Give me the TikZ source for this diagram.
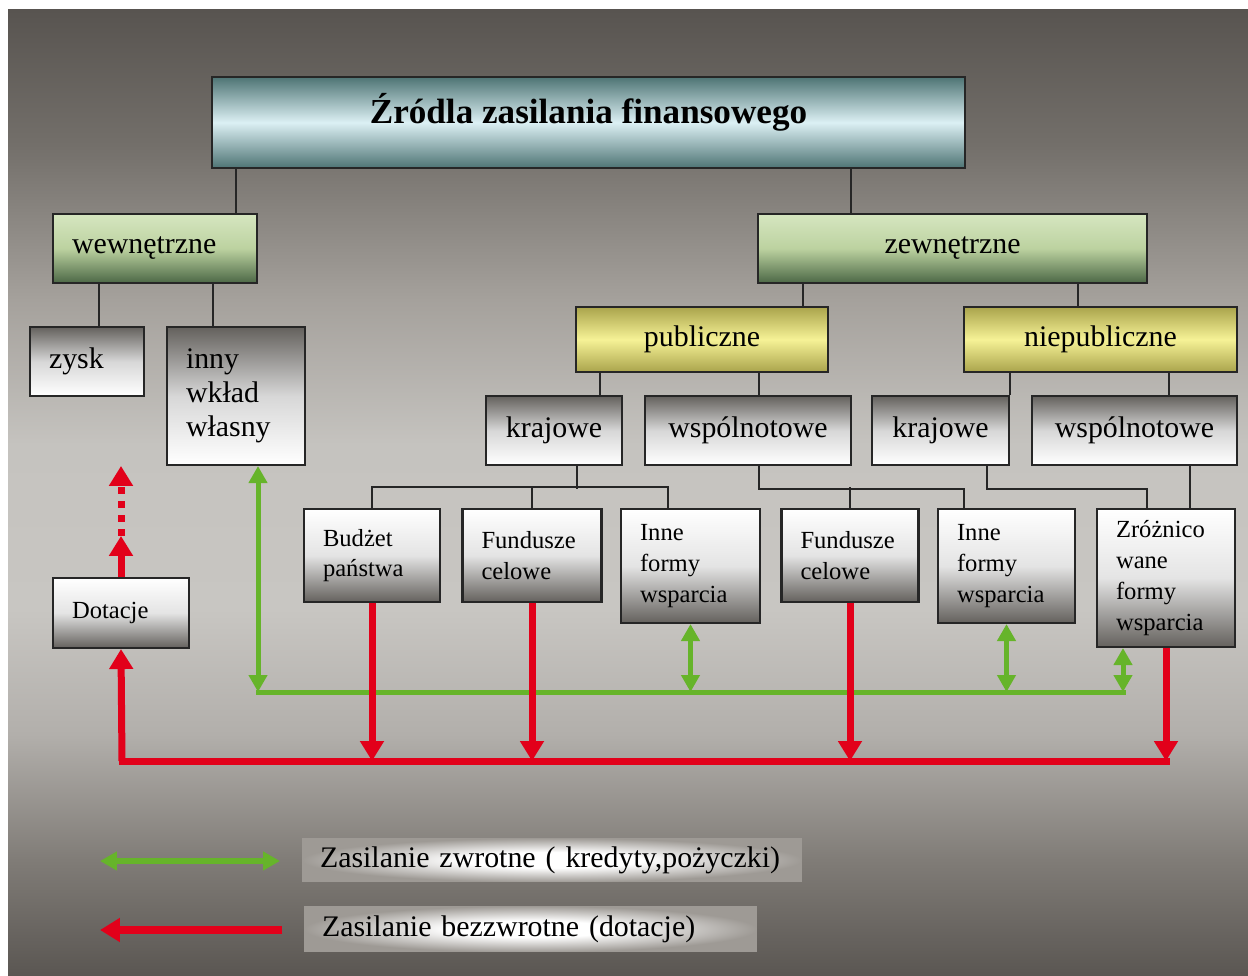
\documentclass[tikz,border=0pt]{standalone}
\usepackage{fontspec}
\setmainfont{Liberation Serif}
\usepackage{xcolor}
\usepackage{tikz}
\usetikzlibrary{arrows.meta}

\definecolor{tloA}{RGB}{90,86,82}
\definecolor{tloB}{RGB}{128,124,119}
\definecolor{tloC}{RGB}{178,175,171}
\definecolor{tloD}{RGB}{200,198,194}
\definecolor{tloE}{RGB}{197,195,191}
\definecolor{tloF}{RGB}{165,161,156}
\definecolor{tloG}{RGB}{115,111,106}
\definecolor{tloH}{RGB}{88,84,80}
\definecolor{legA}{RGB}{158,154,149}
\definecolor{obrys}{RGB}{38,38,38}
\definecolor{czerwony}{RGB}{226,0,26}
\definecolor{zielony}{RGB}{102,180,42}
\definecolor{szaryC}{RGB}{100,97,93}
\definecolor{szaryS}{RGB}{215,215,215}
\definecolor{szaryJ}{RGB}{228,228,228}
\definecolor{turkusC}{RGB}{78,116,116}
\definecolor{turkusJ}{RGB}{220,240,244}
\definecolor{zielJ}{RGB}{214,230,192}
\definecolor{zielS}{RGB}{188,210,160}
\definecolor{zielC}{RGB}{76,104,70}
\definecolor{zoltyC}{RGB}{170,164,76}
\definecolor{zoltyJ}{RGB}{246,242,150}

\pgfdeclareverticalshading{tlo}{100bp}{color(0bp)=(tloA); color(25bp)=(tloA); color(31bp)=(tloB); color(37.5bp)=(tloC); color(44bp)=(tloD); color(52.5bp)=(tloE); color(60bp)=(tloF); color(68bp)=(tloG); color(75bp)=(tloH); color(100bp)=(tloH)}
\pgfdeclareradialshading{poswiata}{\pgfpoint{0bp}{0bp}}{color(0bp)=(white); color(9bp)=(white); color(25bp)=(legA); color(50bp)=(legA)}

\tikzset{
	grotR/.tip={Triangle[length=0.4cm,width=0.46cm]},
	grotZ/.tip={Triangle[length=0.34cm,width=0.36cm]}
}

\begin{document}
\begin{tikzpicture}[x=0.02cm,y=-0.02cm,
	kostka/.style={draw=obrys,line width=1.2pt,inner xsep=0.38cm,inner ysep=0pt,font=\fontsize{17}{19.5}\selectfont},
	tytul/.style={kostka,top color=turkusC,bottom color=turkusC,middle color=turkusJ,font=\bfseries\fontsize{20}{24}\selectfont},
	zielona/.style={kostka,top color=zielJ,bottom color=zielC,middle color=zielS},
	zolta/.style={kostka,top color=zoltyC,bottom color=zoltyC,middle color=zoltyJ},
	gora/.style={kostka,top color=szaryC,bottom color=white,middle color=szaryS},
	dol/.style={kostka,top color=white,bottom color=szaryC,middle color=szaryJ,align=left,font=\fontsize{14}{17.5}\selectfont},
	linia/.style={draw=obrys,line width=1.1pt},
	zwrot/.style={draw=zielony,line width=0.1cm},
	bezzwrot/.style={draw=czerwony,line width=0.14cm},
	legenda/.style={shading=poswiata,inner xsep=0.36cm,inner ysep=0pt,align=left,font=\fontsize{17}{19.5}\selectfont}
	]

	\useasboundingbox (0,0) rectangle (1248,976);
	\fill[white] (0,0) rectangle (1248,976);
	\shade[shading=tlo] (8,10) rectangle (1248,976);

	% boxes
	\node[tytul,minimum width=15.06cm,minimum height=1.82cm,text height=0.63cm,text depth=0.6cm] (zrodla) at (588.5,122.5) {Źródla zasilania finansowego};

	\node[zielona,minimum width=4.08cm,minimum height=1.38cm,text width=3.32cm,align=left] (wewn) at (155,248.5) {wewnętrzne};
	\node[zielona,minimum width=7.78cm,minimum height=1.38cm] (zewn) at (952.5,248.5) {zewnętrzne};

	\node[gora,minimum width=2.28cm,minimum height=1.38cm,text width=1.52cm,align=left] (zysk) at (87,361.5) {zysk};
	\node[gora,minimum width=2.76cm,minimum height=2.76cm,text width=2cm,align=left,font=\fontsize{17}{19.3}\selectfont] (inny) at (236,396) {inny\\wkład\\własny};

	\node[zolta,minimum width=5.04cm,minimum height=1.3cm] (publ) at (702,339.5) {publiczne};
	\node[zolta,minimum width=5.46cm,minimum height=1.3cm] (niepubl) at (1100.5,339.5) {niepubliczne};

	\node[gora,minimum width=2.72cm,minimum height=1.38cm] (kraj1) at (554,430.5) {krajowe};
	\node[gora,minimum width=4.12cm,minimum height=1.38cm] (wsp1) at (748,430.5) {wspólnotowe};
	\node[gora,minimum width=2.74cm,minimum height=1.38cm] (kraj2) at (940.5,430.5) {krajowe};
	\node[gora,minimum width=4.1cm,minimum height=1.38cm] (wsp2) at (1134.5,430.5) {wspólnotowe};

	\node[dol,minimum width=2.72cm,minimum height=1.86cm,text width=1.96cm] (budzet) at (372,555.5) {Budżet\\państwa};
	\node[dol,minimum width=2.78cm,minimum height=1.86cm,text width=2.02cm] (fund1) at (532,555.5) {Fundusze\\celowe};
	\node[dol,minimum width=2.78cm,minimum height=2.28cm,text width=2.02cm] (inne1) at (690.5,566) {Inne\\formy\\wsparcia};
	\node[dol,minimum width=2.74cm,minimum height=1.86cm,text width=1.98cm] (fund2) at (850,555.5) {Fundusze\\celowe};
	\node[dol,minimum width=2.74cm,minimum height=2.28cm,text width=1.98cm] (inne2) at (1006.5,566) {Inne\\formy\\wsparcia};
	\node[dol,minimum width=2.76cm,minimum height=2.76cm,text width=2cm] (zroz) at (1166,578) {Zróżnico\\wane\\formy\\wsparcia};
	\node[dol,minimum width=2.72cm,minimum height=1.4cm,text width=1.96cm] (dot) at (121,613) {Dotacje};

	% tree
	\draw[linia] (zrodla.south -| 236,0) -- (wewn.north -| 236,0);
	\draw[linia] (zrodla.south -| 851,0) -- (zewn.north -| 851,0);
	\draw[linia] (wewn.south -| 99,0) -- (zysk.north -| 99,0);
	\draw[linia] (wewn.south -| 213,0) -- (inny.north -| 213,0);
	\draw[linia] (zewn.south -| 803,0) -- (publ.north -| 803,0);
	\draw[linia] (zewn.south -| 1078,0) -- (niepubl.north -| 1078,0);
	\draw[linia] (publ.south -| 600,0) -- (kraj1.north -| 600,0);
	\draw[linia] (publ.south -| 759,0) -- (wsp1.north -| 759,0);
	\draw[linia] (niepubl.south -| kraj2.north east) -- (kraj2.north east);
	\draw[linia] (niepubl.south -| 1169,0) -- (wsp2.north -| 1169,0);

	\draw[linia] (budzet.north) -- ++(0,-21) -| (inne1.north -| 668,0);
	\draw[linia] (fund1.north) -- ++(0,-21);
	\draw[linia] (kraj1.south -| 577,0) -- ++(0,23);
	\draw[linia] (wsp1.south -| 759,0) -- ++(0,23) -| (inne2.north -| 964,0);
	\draw[linia] (fund2.north) -- ++(0,-21);
	\draw[linia] (kraj2.south -| 987,0) -- ++(0,23) -| (zroz.north -| 1147,0);
	\draw[linia] (wsp2.south -| 1190,0) -- (zroz.north -| 1190,0);

	% flows
	\coordinate (rb) at (122,761);
	\coordinate (gl) at (258,692);
	\coordinate (gr) at (1123,692);

	\draw[zwrot,grotZ-grotZ] (inny.south -| gl) -- (gl);
	\draw[zwrot,line cap=rect] (gl) -- (gr);
	\foreach \n in {inne1,inne2}
		\draw[zwrot,grotZ-grotZ] (\n.south) -- (\n.south |- gl);
	\draw[zwrot,grotZ-grotZ] (zroz.south -| gr) -- (gr);

	\draw[bezzwrot,line cap=rect] (rb) -- (rb -| zroz.south);
	\draw[bezzwrot,-grotR] (rb) -- (dot.south);
	\foreach \n in {budzet,fund1,fund2,zroz}
		\draw[bezzwrot,-grotR] (\n.south) -- (\n.south |- rb);
	\draw[bezzwrot,-grotR] (dot.north) -- ++(0,-41) coordinate (kropki);
	\draw[bezzwrot,dash pattern=on 0.14cm off 0.14cm,-grotR] (kropki) -- ++(0,-70);

	% legend
	\node[legenda,minimum width=10cm,minimum height=0.88cm,text width=9.28cm] (leg1) at (552,860) {Zasilanie zwrotne ( kredyty,pożyczki)};
	\node[legenda,minimum width=9.06cm,minimum height=0.92cm,text width=8.34cm] (leg2) at (530.5,929) {Zasilanie bezzwrotne (dotacje)};
	\coordinate (lz1) at (100,861);
	\coordinate (lz2) at (280,861);
	\coordinate (lc1) at (282,930);
	\coordinate (lc2) at (100,930);
	\draw[zwrot,line width=0.12cm,grotZ-grotZ] (lz1) -- (lz2);
	\draw[bezzwrot,line width=0.16cm,-grotR] (lc1) -- (lc2);

\end{tikzpicture}
\end{document}
